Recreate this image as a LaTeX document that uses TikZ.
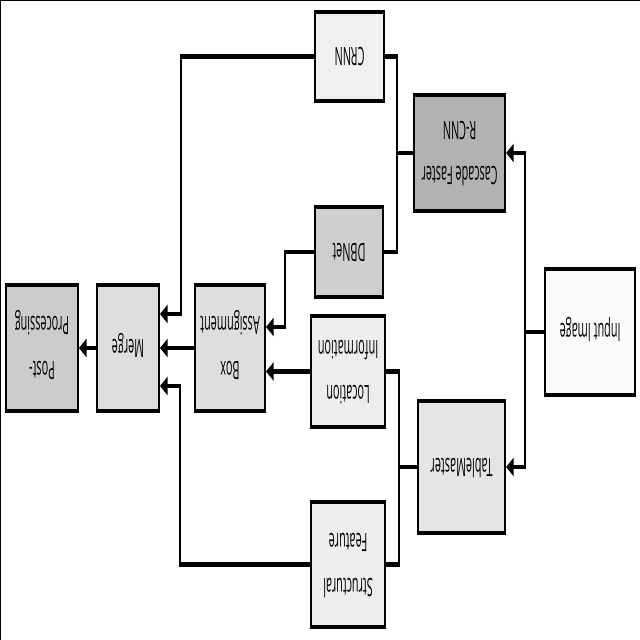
\documentclass[tikz,border=0pt]{standalone}
\usepackage{fontspec}
\usepackage{graphicx}
\newfontfamily\diagfont{Open Sans}
\usetikzlibrary{arrows.meta,calc}
\newcommand{\flipped}[1]{\rotatebox{180}{\scalebox{0.86}[1]{\begin{tabular}{@{}c@{}}#1\end{tabular}}}}

\begin{document}
\begin{tikzpicture}[x=0.025cm, y=-0.025cm,
  stage/.style={draw=black, line width=2.4pt, inner sep=0pt,
    font=\diagfont\fontsize{18}{32}\selectfont},
  link/.style={line width=2.9pt},
  flow/.style={link, -{Triangle[length=11pt,width=12.5pt]}}]
  \useasboundingbox (0,0) rectangle (640,640);
  % Frame
  \draw[line width=1.8pt] (0,640) -- (0,0) -- (640,0);

  \begin{scope}[x=0.05cm, transform canvas={xscale=0.5}]
    % Stages
    \node[stage, fill=black!2, minimum width=4.5cm, minimum height=3.15cm] (input) at (590,332) {\flipped{Input Image}};
    \node[stage, fill=black!30, minimum width=4.55cm, minimum height=2.9cm] (cascade) at (459.5,153) {\flipped{Cascade Faster\\R-CNN}};
    \node[stage, fill=black!10, minimum width=4.35cm, minimum height=3.3cm] (tablemaster) at (461.5,467) {\flipped{TableMaster}};
    \node[stage, fill=black!6, minimum width=3.45cm, minimum height=2.225cm] (crnn) at (349.5,56.5) {\flipped{CRNN}};
    \node[stage, fill=black!19, minimum width=3.4cm, minimum height=2.25cm] (dbnet) at (349,252) {\flipped{DBNet}};
    \node[stage, fill=black!7, minimum width=3.7cm, minimum height=2.775cm] (location) at (348,371.5) {\flipped{Location\\Information}};
    \node[stage, fill=black!7, minimum width=3.7cm, minimum height=3.125cm] (structural) at (348,564.5) {\flipped{Structural\\Feature}};
    \node[stage, fill=black!13, minimum width=3.5cm, minimum height=3.15cm] (boxassign) at (230,348) {\flipped{Box\\Assignment}};
    \node[stage, fill=black!13, minimum width=3.1cm, minimum height=3.15cm] (merge) at (128,348) {\flipped{Merge}};
    \node[stage, fill=black!20, minimum width=3.6cm, minimum height=3.15cm] (post) at (42,348) {\flipped{Post-\\Processing}};

    % Input splits into detector and table model
    \draw[link] (input.west) -- ++(-19,0) coordinate (isplit);
    \draw[flow] (isplit) |- (cascade.east);
    \draw[flow] (isplit) |- (tablemaster.east);

    % Detector outputs
    \draw[link] (cascade.west) -- ++(-16,0) coordinate (csplit);
    \draw[link] (csplit) |- (crnn.east);
    \draw[link] (csplit) |- (dbnet.east);

    % Table model outputs
    \draw[link] (tablemaster.west) -- ++(-18,0) coordinate (tsplit);
    \draw[link] (tsplit) |- (location.east);
    \draw[link] (tsplit) |- (structural.east);

    % Into box assignment and merge
    \draw[flow] (crnn.west) -- ++(-133,0) |- ($(merge.east)+(0,-34)$);
    \draw[flow] (dbnet.west) -- ++(-29,0) |- ($(boxassign.east)+(0,-21)$);
    \draw[flow] (location.west) -- (location.west -| boxassign.east);
    \draw[flow] (boxassign.west) -- (merge.east);
    \draw[flow] (structural.west) -- ++(-130,0) |- ($(merge.east)+(0,38)$);
    \draw[flow] (merge.west) -- (post.east);
  \end{scope}
\end{tikzpicture}
\end{document}
